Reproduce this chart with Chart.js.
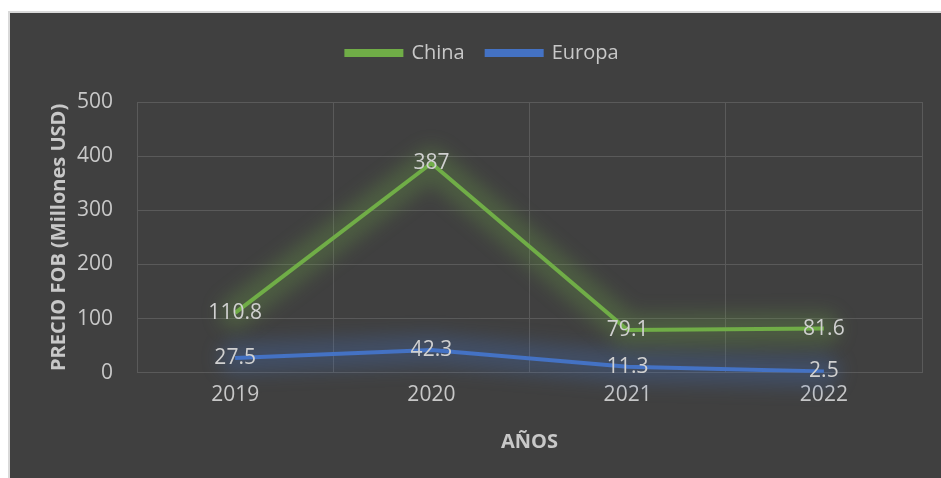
<!DOCTYPE html>
<html>
<head>
<meta charset="utf-8">
<title>Precio FOB</title>
<script src="https://cdn.jsdelivr.net/npm/chart.js"></script>
<style>
body { margin: 0; background: #fff; overflow: hidden; }
#box {
	position: absolute;
	left: 8px;
	top: 11px;
	width: 931px;
	height: 465px;
	background: #404040;
	border-left: 2px solid #d9d9d9;
	border-top: 2px solid #d9d9d9;
}
</style>
</head>
<body>
<div id="box"><canvas id="grafico" width="931" height="465"></canvas></div>
<script>
const anios = ["2019", "2020", "2021", "2022"];
const china = [110.8, 387, 79.1, 81.6];
const europa = [27.5, 42.3, 11.3, 2.5];
const ticksY = [0, 100, 200, 300, 400, 500];

const txtColor = "#c8c8c8";
const fuente = "'Open Sans', 'Noto Sans', sans-serif";
const brilloColores = ["rgba(112,173,71,0.26)", "rgba(68,114,196,0.28)"];

// brillo difuso detras de cada linea
const brillo = {
	id: "brillo",
	beforeDatasetDraw(chart, args) {
		const pts = args.meta.data;
		const ctx = chart.ctx;
		ctx.save();
		ctx.filter = "blur(9px)";
		ctx.strokeStyle = brilloColores[args.index];
		ctx.lineWidth = 32;
		ctx.lineJoin = "round";
		ctx.lineCap = "round";
		ctx.beginPath();
		pts.forEach((p, i) => i ? ctx.lineTo(p.x, p.y) : ctx.moveTo(p.x, p.y));
		ctx.stroke();
		ctx.restore();
	}
};

// etiquetas de datos centradas en cada punto
const etiquetas = {
	id: "etiquetas",
	afterDatasetsDraw(chart) {
		const ctx = chart.ctx;
		ctx.save();
		ctx.font = "21px " + fuente;
		ctx.fillStyle = "#d0d0d0";
		ctx.textAlign = "center";
		ctx.textBaseline = "middle";
		chart.data.datasets.forEach((ds, i) => {
			chart.getDatasetMeta(i).data.forEach((p, j) => {
				ctx.fillText(String(ds.data[j]), p.x, p.y);
			});
		});
		ctx.restore();
	}
};

// mas espacio debajo de la leyenda
const leyendaAlta = {
	id: "leyendaAlta",
	beforeInit(chart) {
		const fit = chart.legend.fit;
		chart.legend.fit = function () {
			fit.bind(chart.legend)();
			this.height += 29;
		};
	}
};

new Chart("grafico", {
	type: "line",
	data: {
		labels: anios,
		datasets: [
			{ label: "China", data: china, borderColor: "#70ad47", backgroundColor: "#70ad47", borderWidth: 4, pointRadius: 0, tension: 0 },
			{ label: "Europa", data: europa, borderColor: "#4472c4", backgroundColor: "#4472c4", borderWidth: 4, pointRadius: 0, tension: 0 }
		]
	},
	options: {
		responsive: false,
		animation: false,
		layout: { padding: { left: 33, right: 19, top: 8, bottom: 20 } },
		plugins: {
			tooltip: { enabled: false },
			legend: {
				position: "top",
				labels: {
					color: txtColor,
					font: { family: fuente, size: 20 },
					boxWidth: 55,
					boxHeight: 4,
					padding: 22
				}
			}
		},
		scales: {
			x: {
				offset: true,
				grid: { color: "#5a5a5a", offset: true, drawTicks: false },
				border: { color: "#5a5a5a" },
				ticks: { color: txtColor, font: { family: fuente, size: 21 }, padding: 10 },
				title: { display: true, text: "AÑOS", color: txtColor, font: { family: fuente, size: 20, weight: "bold" }, padding: { top: 12 } }
			},
			y: {
				min: 0,
				max: 500,
				afterBuildTicks(axis) { axis.ticks = ticksY.map(v => ({ value: v })); },
				grid: { color: "#5a5a5a", drawTicks: false },
				border: { color: "#5a5a5a" },
				ticks: { color: txtColor, font: { family: fuente, size: 21 }, padding: 24 },
				title: { display: true, text: "PRECIO FOB (Millones USD)", color: txtColor, font: { family: fuente, size: 20, weight: "bold" }, padding: { bottom: -18 } }
			}
		}
	},
	plugins: [brillo, etiquetas, leyendaAlta]
});
</script>
</body>
</html>
